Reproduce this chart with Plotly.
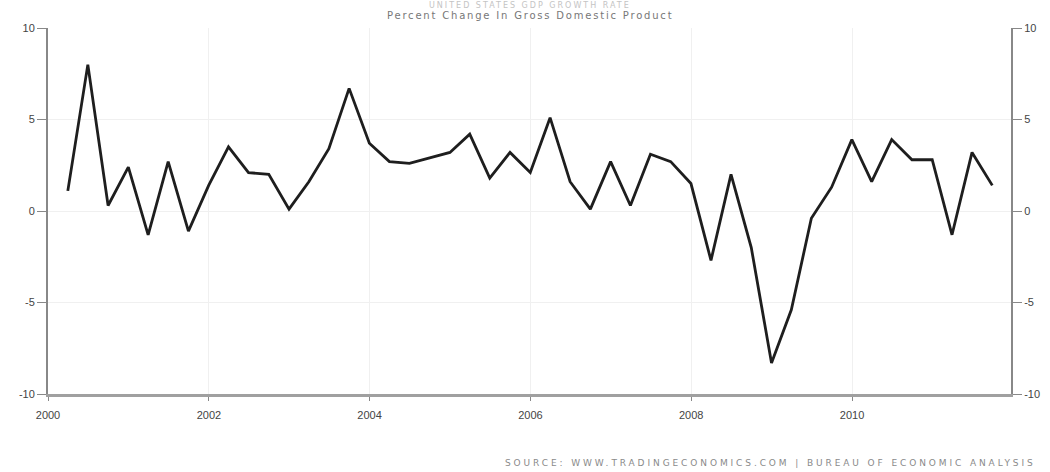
import plotly.graph_objects as go
import pandas as pd

# Quarterly US GDP growth (annualized % change), 2000Q1 - 2011Q3
quarter_ends = pd.date_range("2000-03-31", periods=47, freq="QE")
gdp_growth = [
    1.1, 8.0, 0.3, 2.4,
    -1.3, 2.7, -1.1, 1.4,
    3.5, 2.1, 2.0, 0.1,
    1.6, 3.4, 6.7, 3.7,
    2.7, 2.6, 2.9, 3.2,
    4.2, 1.8, 3.2, 2.1,
    5.1, 1.6, 0.1, 2.7,
    0.3, 3.1, 2.7, 1.5,
    -2.7, 2.0, -2.0, -8.3,
    -5.4, -0.4, 1.3, 3.9,
    1.6, 3.9, 2.8, 2.8,
    -1.3, 3.2, 1.4,
]
x_tick_vals = ["2000-01-01", "2002-01-01", "2004-01-01", "2006-01-01", "2008-01-01", "2010-01-01"]
x_tick_text = ["2000", "2002", "2004", "2006", "2008", "2010"]
y_tick_vals = [-10, -5, 0, 5, 10]
y_tick_text = ["-10", "-5", "0", "5", "10"]

title_text = "UNITED STATES GDP GROWTH RATE"
subtitle_text = "Percent Change In Gross Domestic Product"
source_text = "SOURCE: WWW.TRADINGECONOMICS.COM | BUREAU OF ECONOMIC ANALYSIS"

fig = go.Figure()
fig.add_trace(go.Scatter(
    x=quarter_ends, y=gdp_growth, mode="lines",
    line=dict(color="#1e1e1e", width=2.8),
    hoverinfo="x+y", showlegend=False,
))
fig.add_trace(go.Scatter(
    x=quarter_ends, y=gdp_growth, mode="lines", yaxis="y2",
    line=dict(color="rgba(0,0,0,0)", width=0),
    hoverinfo="skip", showlegend=False,
))

tick_font = dict(family="Liberation Sans Narrow, Liberation Sans, Arial", size=11, color="#444")

fig.update_layout(
    width=1050, height=472,
    margin=dict(l=48, r=39, t=28, b=78),
    paper_bgcolor="white", plot_bgcolor="white",
    xaxis=dict(
        type="date", automargin=False,
        range=["2000-01-01", "2011-12-24"],
        tickvals=x_tick_vals, ticktext=x_tick_text,
        showgrid=True, gridcolor="#f0f0f0", gridwidth=1,
        showline=True, linecolor="#a0a0a0", linewidth=3,
        ticks="outside", ticklen=4, tickcolor="#888", tickwidth=1,
        tickfont=tick_font, zeroline=False,
        ticklabelstandoff=5,
    ),
    yaxis=dict(
        range=[-10, 10], automargin=False,
        tickvals=y_tick_vals, ticktext=y_tick_text,
        showgrid=True, gridcolor="#f0f0f0", gridwidth=1,
        showline=True, linecolor="#888", linewidth=2,
        ticks="outside", ticklen=9, tickcolor="#888", tickwidth=1,
        tickfont=tick_font, zeroline=False,
    ),
    yaxis2=dict(
        range=[-10, 10], overlaying="y", side="right", automargin=False,
        tickvals=y_tick_vals, ticktext=y_tick_text,
        showgrid=False,
        showline=True, linecolor="#888", linewidth=2,
        ticks="outside", ticklen=9, tickcolor="#888", tickwidth=1,
        tickfont=tick_font, zeroline=False,
    ),
    annotations=[
        dict(text='<span style="letter-spacing:2px">' + title_text + '</span>',
             xref="paper", yref="paper", x=0.5, y=1.0, yshift=23,
             showarrow=False, xanchor="center", yanchor="middle",
             font=dict(family="DejaVu Sans", size=8, color="#c4c4c4")),
        dict(text='<span style="letter-spacing:1.8px">' + subtitle_text + '</span>',
             xref="paper", yref="paper", x=0.5, y=1.0, yshift=13,
             showarrow=False, xanchor="center", yanchor="middle",
             font=dict(family="DejaVu Sans", size=10, color="#777")),
        dict(text='<span style="letter-spacing:2.9px">' + source_text + '</span>',
             xref="paper", yref="paper", x=1.0, y=0, xshift=27, yshift=-69,
             showarrow=False, xanchor="right", yanchor="middle",
             font=dict(family="DejaVu Sans", size=9, color="#8a8a8a")),
    ],
)

fig.write_html(
    "out.html",
    config={"displayModeBar": False},
    post_script="document.body.style.margin='0';document.body.style.overflow='hidden';",
)
